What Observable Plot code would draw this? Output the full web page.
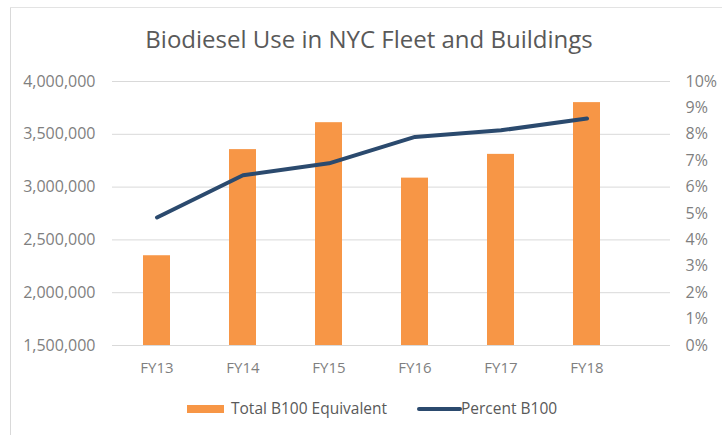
<!DOCTYPE html>
<html><head><meta charset="utf-8">
<script src="https://cdn.jsdelivr.net/npm/d3@7"></script>
<script src="https://cdn.jsdelivr.net/npm/@observablehq/plot@0.6"></script>
<style>
body{margin:0;background:#fff;font-family:"Open Sans",sans-serif;}
#wrap{position:relative;width:722px;height:435px;overflow:hidden;background:#fff;}
.bl{position:absolute;left:10px;top:7px;width:1px;height:428px;background:#d9d9d9;}
.bt{position:absolute;left:10px;top:7px;width:712px;height:1px;background:#e3e3e3;}
#title{position:absolute;left:369px;top:22px;transform:translateX(-50%);white-space:nowrap;font-size:24px;color:#595959;}
#chart{position:absolute;left:0;top:60px;}
.lg{position:absolute;font-size:15.5px;color:#595959;white-space:nowrap;top:397px;}
.sw{position:absolute;}
</style></head><body>
<div id="wrap">
  <div class="bl"></div><div class="bt"></div>
  <div id="title">Biodiesel Use in NYC Fleet and Buildings</div>
  <div id="chart"></div>
  <div class="sw" style="left:187px;top:405px;width:37px;height:8px;background:#f79646;"></div>
  <div class="lg" style="left:231px;">Total B100 Equivalent</div>
  <div class="sw" style="left:417px;top:407px;width:45px;height:4px;border-radius:2px;background:#2b4a6e;"></div>
  <div class="lg" style="left:461px;">Percent B100</div>
</div>
<script>
const years = ["FY13", "FY14", "FY15", "FY16", "FY17", "FY18"];
const totalB100 = [2350000, 3355000, 3610000, 3085000, 3310000, 3800000];
const percentB100 = [4.85, 6.45, 6.9, 7.9, 8.15, 8.6];
const leftTicks = [1500000, 2000000, 2500000, 3000000, 3500000, 4000000];
const rightTicks = [0, 1, 2, 3, 4, 5, 6, 7, 8, 9, 10];

const yMin = 1500000, yMax = 4000000, pMax = 10;
const toY = p => yMin + (p / pMax) * (yMax - yMin);

const data = years.map((y, i) => ({year: y, total: totalB100[i], pct: percentB100[i]}));

const chart = Plot.plot({
  width: 722,
  height: 320,
  marginTop: 21,
  marginBottom: 35,
  marginLeft: 112,
  marginRight: 52,
  style: {fontFamily: '"Open Sans", sans-serif', fontSize: "16px", color: "#7f7f7f", background: "transparent"},
  x: {type: "band", domain: years, range: [112, 631], paddingInner: 0.69, paddingOuter: 0.345, label: null},
  y: {domain: [yMin, yMax], label: null},
  marks: [
    Plot.gridY(leftTicks, {stroke: "#d9d9d9", strokeOpacity: 1, strokeWidth: 1}),
    Plot.barY(data, {x: "year", y1: yMin, y2: "total", fill: "#f79646"}),
    Plot.lineY(data, {x: "year", y: d => toY(d.pct), stroke: "#2b4a6e", strokeWidth: 4, strokeLinecap: "round", strokeLinejoin: "round"}),
    Plot.axisX({tickSize: 0, tickPadding: 17, fontSize: 15, label: null}),
    Plot.axisY(leftTicks, {anchor: "left", tickSize: 0, tickPadding: 17, fontSize: 16, tickFormat: d3.format(","), label: null}),
    Plot.axisY(rightTicks.map(toY), {anchor: "right", tickSize: 0, tickPadding: 15, fontSize: 16, tickFormat: d => Math.round((d - yMin) / (yMax - yMin) * pMax) + "%", label: null})
  ]
});
document.getElementById("chart").appendChild(chart);
</script>
</body></html>
